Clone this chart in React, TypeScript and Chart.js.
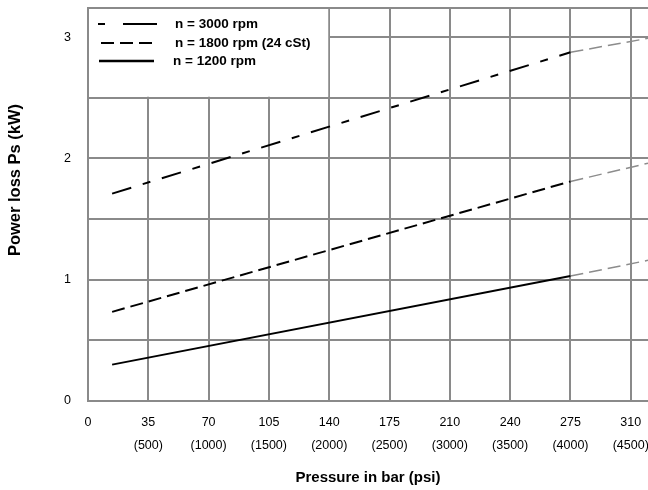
import React, { useEffect, useRef } from 'react';
import { Chart, registerables } from 'chart.js';

Chart.register(...registerables);

// ---- data ----
const tickValues = [0, 35, 70, 105, 140, 175, 210, 245, 280, 315];
const barLabels = ['0', '35', '70', '105', '140', '175', '210', '240', '275', '310'];
const psiLabels = ['', '(500)', '(1000)', '(1500)', '(2000)', '(2500)', '(3000)', '(3500)', '(4000)', '(4500)'];
const yTickValues = [0, 0.5, 1, 1.5, 2, 2.5, 3];

const seriesNames = ['n = 3000 rpm', 'n = 1800 rpm (24 cSt)', 'n = 1200 rpm'];
const pressureMeasured = [14, 280];
const pressureExtrap = [280, 325];
const loss3000 = [1.71, 2.875];
const loss3000Ext = [2.875, 2.99];
const loss1800 = [0.735, 1.81];
const loss1800Ext = [1.81, 1.96];
const loss1200 = [0.3, 1.03];
const loss1200Ext = [1.03, 1.16];

const FONT = "'Liberation Sans', Arial, Helvetica, sans-serif";
const GRID = '#8a8a8a';
const EXT = '#8c8c8c';

const pts = (xs: number[], ys: number[]) => xs.map((x, i) => ({ x, y: ys[i] }));

const framePlugin = {
  id: 'frame',
  beforeDatasetsDraw(chart: any) {
    const { ctx, chartArea, scales } = chart;
    const { left, top, right } = chartArea;
    const xs = scales.x;
    const ys = scales.y;
    ctx.save();
    ctx.strokeStyle = GRID;
    ctx.lineWidth = 2;
    ctx.beginPath();
    ctx.moveTo(left, top);
    ctx.lineTo(right, top);
    ctx.stroke();
    const bx = xs.getPixelForValue(140);
    const by = ys.getPixelForValue(2.5);
    ctx.fillStyle = '#ffffff';
    ctx.fillRect(left + 1, top + 1, bx - left - 2, by - top - 2);
    ctx.restore();
  },
  afterDatasetsDraw(chart: any) {
    const { ctx, chartArea } = chart;
    const { left, top } = chartArea;
    ctx.save();
    ctx.strokeStyle = '#000';
    ctx.lineWidth = 2;
    const rows = [top + 16, top + 35, top + 53];
    ctx.beginPath();
    ctx.moveTo(left + 10, rows[0]);
    ctx.lineTo(left + 17, rows[0]);
    ctx.moveTo(left + 35, rows[0]);
    ctx.lineTo(left + 69, rows[0]);
    ctx.stroke();
    ctx.setLineDash([13, 6]);
    ctx.beginPath();
    ctx.moveTo(left + 13, rows[1]);
    ctx.lineTo(left + 67, rows[1]);
    ctx.stroke();
    ctx.setLineDash([]);
    ctx.lineWidth = 2.5;
    ctx.beginPath();
    ctx.moveTo(left + 11, rows[2]);
    ctx.lineTo(left + 66, rows[2]);
    ctx.stroke();
    ctx.fillStyle = '#000';
    ctx.font = `bold 13.5px ${FONT}`;
    ctx.textBaseline = 'middle';
    ctx.textAlign = 'left';
    ctx.fillText(seriesNames[0], left + 87, rows[0]);
    ctx.fillText(seriesNames[1], left + 87, rows[1]);
    ctx.fillText(seriesNames[2], left + 85, rows[2]);
    ctx.restore();
  },
  afterDraw(chart: any) {
    const { ctx, chartArea } = chart;
    ctx.save();
    ctx.fillStyle = '#000';
    ctx.font = `bold 15px ${FONT}`;
    ctx.textAlign = 'center';
    ctx.textBaseline = 'middle';
    ctx.fillText('Pressure in bar (psi)', (chartArea.left + chartArea.right) / 2, 478);
    ctx.font = `bold 16.5px ${FONT}`;
    ctx.translate(15, 180);
    ctx.rotate(-Math.PI / 2);
    ctx.fillText('Power loss Ps (kW)', 0, 0);
    ctx.restore();
  },
};

export default function App() {
  const ref = useRef<HTMLCanvasElement>(null);
  useEffect(() => {
    document.body.style.margin = '0';
    const canvas = ref.current;
    if (!canvas) return;
    const black = '#000000';
    const chart = new Chart(canvas, {
      type: 'line',
      data: {
        datasets: [
          { label: seriesNames[0], data: pts(pressureMeasured, loss3000), borderColor: black, borderWidth: 2, borderDash: [20, 12, 8, 12], pointRadius: 0, fill: false },
          { label: seriesNames[0] + ' ext', data: pts(pressureExtrap, loss3000Ext), borderColor: EXT, borderWidth: 1.5, borderDash: [13, 6], pointRadius: 0, fill: false },
          { label: seriesNames[1], data: pts(pressureMeasured, loss1800), borderColor: black, borderWidth: 2, borderDash: [13, 6], pointRadius: 0, fill: false },
          { label: seriesNames[1] + ' ext', data: pts(pressureExtrap, loss1800Ext), borderColor: EXT, borderWidth: 1.5, borderDash: [13, 6], pointRadius: 0, fill: false },
          { label: seriesNames[2], data: pts(pressureMeasured, loss1200), borderColor: black, borderWidth: 2, pointRadius: 0, fill: false },
          { label: seriesNames[2] + ' ext', data: pts(pressureExtrap, loss1200Ext), borderColor: EXT, borderWidth: 1.5, borderDash: [13, 6], pointRadius: 0, fill: false },
        ],
      },
      options: {
        responsive: false,
        animation: false,
        layout: { padding: { top: 8, right: 0, left: 0, bottom: 0 } },
        plugins: { legend: { display: false }, tooltip: { enabled: false } },
        scales: {
          x: {
            type: 'linear',
            min: 0,
            max: 325,
            grid: { color: GRID, lineWidth: 2, drawTicks: false },
            border: { display: true, color: GRID, width: 2 },
            afterBuildTicks: (s: any) => { s.ticks = tickValues.map((v) => ({ value: v })); },
            afterFit: (s: any) => { s.height = 89; s.paddingLeft = 0; s.paddingRight = 0; },
            ticks: {
              autoSkip: false,
              maxRotation: 0,
              minRotation: 0,
              padding: 10,
              color: '#000',
              font: { family: FONT, size: 12.5, lineHeight: 1.85 },
              callback: (_v: any, i: number) => (psiLabels[i] ? [barLabels[i], psiLabels[i]] : barLabels[i]),
            },
          },
          y: {
            type: 'linear',
            min: 0,
            max: 3.24,
            grid: { color: GRID, lineWidth: 2, drawTicks: false },
            border: { display: true, color: GRID, width: 2 },
            afterBuildTicks: (s: any) => { s.ticks = yTickValues.map((v) => ({ value: v })); },
            afterFit: (s: any) => { s.width = 88; s.paddingTop = 0; s.paddingBottom = 0; },
            ticks: {
              autoSkip: false,
              padding: 17,
              color: '#000',
              font: { family: FONT, size: 12.5 },
              callback: (v: any) => (Number.isInteger(v) ? String(v) : ''),
            },
          },
        },
      },
      plugins: [framePlugin],
    } as any);
    return () => chart.destroy();
  }, []);
  return <canvas ref={ref} width={648} height={490} style={{ display: 'block' }} />;
}
